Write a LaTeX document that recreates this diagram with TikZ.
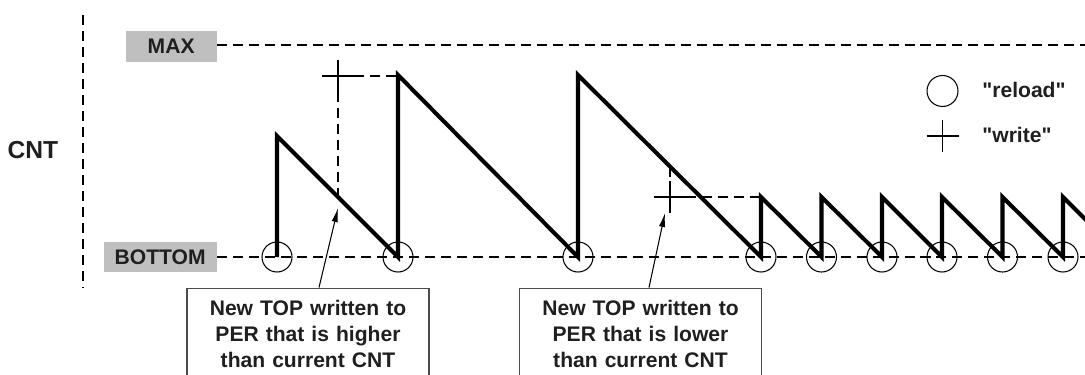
\documentclass[tikz,border=0pt]{standalone}
\usepackage{fontspec}
\setmainfont{Liberation Sans}[Ligatures=TeXOff]
\usetikzlibrary{arrows.meta}
\begin{document}
\begin{tikzpicture}[x=0.02cm, y=-0.02cm, font=\fontsize{12}{14.7}\selectfont\bfseries,
          every node/.style={text=black!88},
          level/.style={fill=black!25, inner sep=0pt, minimum height=0.62cm},
          note/.style={draw=black!70, line width=0.6pt, text width=4.84cm, align=center,
                       inner xsep=0pt, inner ysep=7.2pt, anchor=north},
          guide/.style={line width=0.7pt, dash pattern=on 5.7pt off 3.4pt},
          saw/.style={line width=2.3pt, line join=miter},
          ring/.style={line width=0.6pt},
          wcross/.pic={\draw[line width=0.6pt] (-16,0) -- (16,0) (0,-16) -- (0,16);}]
        \clip (0,0) rectangle (1085,375);
        % axis, levels
        \draw[guide] (83,15) -- (83,287);
        \node (cnt) at (33,150.5) {\fontsize{14}{16}\selectfont CNT};
        \node[level, minimum width=1.82cm, anchor=east] (max) at (217,46.5) {MAX};
        \node[level, minimum width=2.26cm, anchor=east] (bottom) at (217,257) {BOTTOM};
        \draw[guide] (max.east |- 0,45) -- (1085,45);
        \draw[guide] (bottom.east) -- (1085,257);
        % reload points and write points
        \coordinate (r1) at (277,257); \coordinate (r2) at (398,257); \coordinate (r3) at (578,257);
        \coordinate (r4) at (761,257); \coordinate (r5) at (821.5,257); \coordinate (r6) at (882,257);
        \coordinate (r7) at (942,257); \coordinate (r8) at (1002.5,257); \coordinate (r9) at (1063,257);
        \coordinate (w1) at (338,76); \coordinate (w2) at (670,197);
        \draw[guide] (w1) -- (398,76);
        \draw[guide] (w1) -- (338,197);
        \draw[guide] (w2) -- (761,197);
        \draw[guide] (670,167) -- (w2);
        \pic at (w1) {wcross};
        \pic at (w2) {wcross};
        % counter
        \draw[saw] (r1) -- (277,136) -- (r2) -- (398,75) -- (r3) -- (578,75) -- (r4)
          -- (761,197) -- (r5) -- (821.5,197) -- (r6) -- (882,197) -- (r7) -- (942,197)
          -- (r8) -- (1002.5,197) -- (r9) -- (1063,197) -- (1123,257);
        \draw[ring] (r1) circle (0.3cm); \draw[ring] (r2) circle (0.3cm); \draw[ring] (r3) circle (0.3cm);
        \draw[ring] (r4) circle (0.3cm); \draw[ring] (r5) circle (0.3cm); \draw[ring] (r6) circle (0.3cm);
        \draw[ring] (r7) circle (0.3cm); \draw[ring] (r8) circle (0.3cm); \draw[ring] (r9) circle (0.3cm);
        % legend
        \coordinate (lr) at (942.5,91); \coordinate (lw) at (942.5,136);
        \draw[ring] (lr) circle (0.31cm);
        \pic at (lw) {wcross};
        \node[anchor=west, inner sep=0pt] (legr) at (982,90) {"reload"};
        \node[anchor=west, inner sep=0pt] (legw) at (982,135) {"write"};
        % notes
        \node[note] (nhigh) at (308,287.5) {New TOP written to\\PER that is higher\\than current CNT};
        \node[note] (nlow) at (640.5,287.5) {New TOP written to\\PER that is lower\\than current CNT};
        \coordinate (ahigh) at (338,208); \coordinate (alow) at (665,213);
        \draw[-{Latex[length=8pt,width=3.6pt]}, line width=0.6pt] ([xshift=0.22cm]nhigh.north) -- (ahigh);
        \draw[-{Latex[length=8pt,width=3.6pt]}, line width=0.6pt] ([xshift=0.17cm]nlow.north) -- (alow);
      \end{tikzpicture}
\end{document}
